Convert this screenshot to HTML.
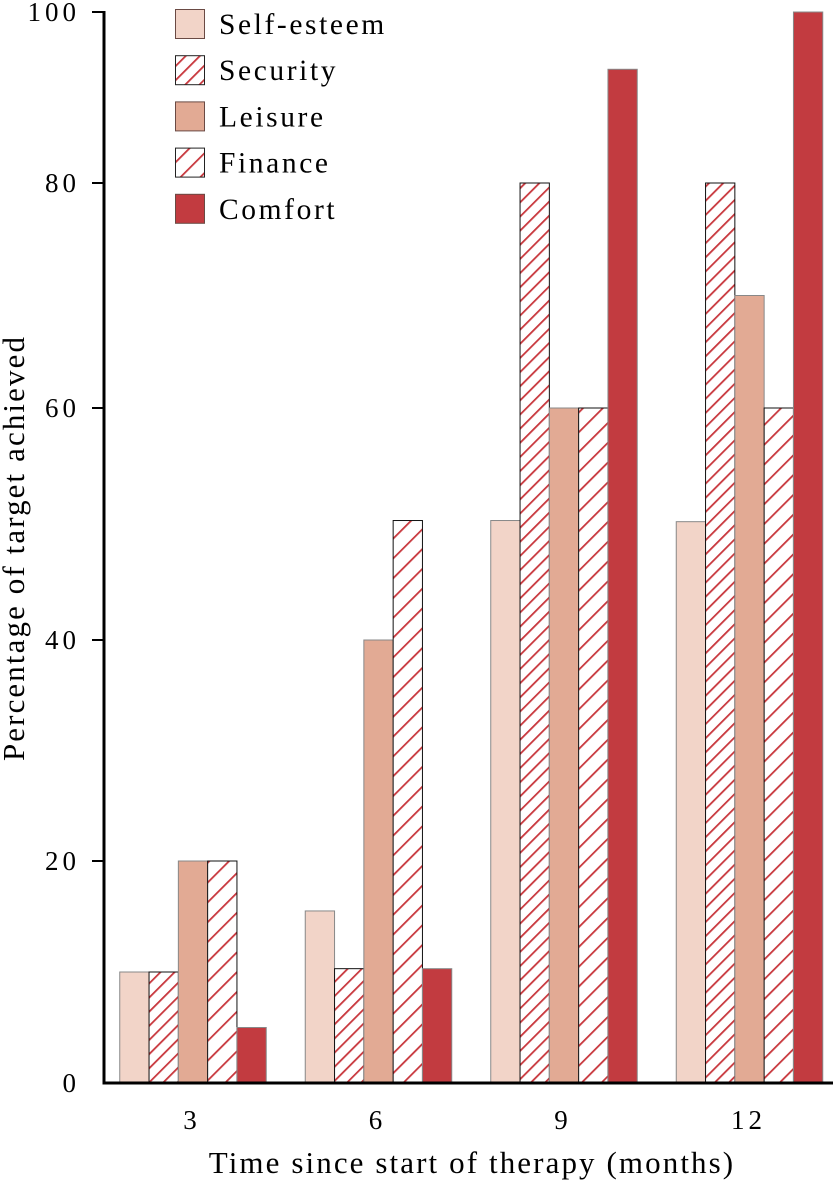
<!DOCTYPE html>
<html><head><meta charset="utf-8">
<style>
html,body{margin:0;padding:0;background:#fff;}
svg{display:block;font-family:"Liberation Serif",serif;}
</style></head>
<body>
<svg id="chart" width="833" height="1181" viewBox="0 0 833 1181" xmlns="http://www.w3.org/2000/svg">
<defs>
<pattern id="hatchS" patternUnits="userSpaceOnUse" width="10" height="10" patternTransform="rotate(45)">
<rect width="10" height="10" fill="#fff"/><line x1="0" y1="0" x2="0" y2="10" stroke="#c8373d" stroke-width="3.6"/>
</pattern>
<pattern id="hatchF" patternUnits="userSpaceOnUse" width="14" height="14" patternTransform="rotate(45)">
<rect width="14" height="14" fill="#fff"/><line x1="0" y1="0" x2="0" y2="14" stroke="#c8373d" stroke-width="3.6"/>
</pattern>
</defs>
<g id="bars"></g>
<g id="axes"></g>
<g id="legend"></g>
<text transform="translate(24,548) rotate(-90)" text-anchor="middle" font-size="31" letter-spacing="2.1" fill="#000">Percentage of target achieved</text>
<text x="472" y="1173" text-anchor="middle" font-size="31" letter-spacing="2.1" fill="#000">Time since start of therapy (months)</text>
</svg>
<script>
const categories = ["3","6","9","12"];
const seriesNames = ["Self-esteem","Security","Leisure","Finance","Comfort"];
const selfEsteem = [10, 15.5, 50.3, 50.2];
const security = [10, 10.3, 80, 80];
const leisure = [20, 40, 60, 70];
const finance = [20, 50.3, 60, 60];
const comfort = [5, 10.3, 93.3, 100];
const yTicks = [0, 20, 40, 60, 80, 100];

const NS = "http://www.w3.org/2000/svg";
const tickPx = [1083, 861, 640, 408, 183, 12];
function yScale(v){
  for(let i=0;i<yTicks.length-1;i++){
    if(v<=yTicks[i+1]||i===yTicks.length-2){
      const t=(v-yTicks[i])/(yTicks[i+1]-yTicks[i]);
      return tickPx[i]+t*(tickPx[i+1]-tickPx[i]);
    }
  }
}
function xCenter(i){ return 193 + i*185.5; }
const barW = 29.3;
const series = [selfEsteem, security, leisure, finance, comfort];
const fills = ["#f2d4c8","url(#hatchS)","#e2aa94","url(#hatchF)","#c23b40"];
const strokes = ["#888","#111","#888","#111","#888"];
const slug = ["self-esteem","security","leisure","finance","comfort"];

function mk(tag, attrs, parent){
  const el=document.createElementNS(NS,tag);
  for(const k in attrs) el.setAttribute(k,attrs[k]);
  parent.appendChild(el); return el;
}
const bars=document.getElementById("bars");
categories.forEach((c,i)=>{
  series.forEach((s,j)=>{
    const x=xCenter(i)-2.5*barW+j*barW;
    const y=yScale(s[i]);
    const r=mk("rect",{x:x,y:y,width:barW,height:1083-y,fill:fills[j],stroke:strokes[j],"stroke-width":1},bars);
    
    
  });
});
const axes=document.getElementById("axes");
const yl=mk("line",{x1:104,y1:11,x2:104,y2:1084.5,stroke:"#000","stroke-width":3},axes);


const xl=mk("line",{x1:102.5,y1:1083,x2:833,y2:1083,stroke:"#000","stroke-width":3},axes);


yTicks.forEach(t=>{
  const y=yScale(t);
  if(t>0){
    const tk=mk("line",{x1:92,y1:y,x2:104,y2:y,stroke:"#000","stroke-width":2},axes);
    
    
  }
  const tx=mk("text",{x:80,y:y+9,"text-anchor":"end","font-size":27,"letter-spacing":"4"},axes);
  tx.textContent=t;
  
  
});
categories.forEach((c,i)=>{
  const tx=mk("text",{x:xCenter(i)-1,y:1129,"text-anchor":"middle","font-size":27,"letter-spacing":"4"},axes);
  tx.textContent=c;
  
  
});
const lg=document.getElementById("legend");
seriesNames.forEach((n,j)=>{
  const y=9+j*46.2;
  const r=mk("rect",{x:175.5,y:y+0.5,width:29,height:29,fill:fills[j],stroke:strokes[j]==="#111"?"#222":"#6a4a44","stroke-width":1},lg);
  
  
  const t=mk("text",{x:219,y:y+25,"font-size":29.5,"letter-spacing":"2.6"},lg);
  t.textContent=n;
  
  
});
</script>
</body></html>
